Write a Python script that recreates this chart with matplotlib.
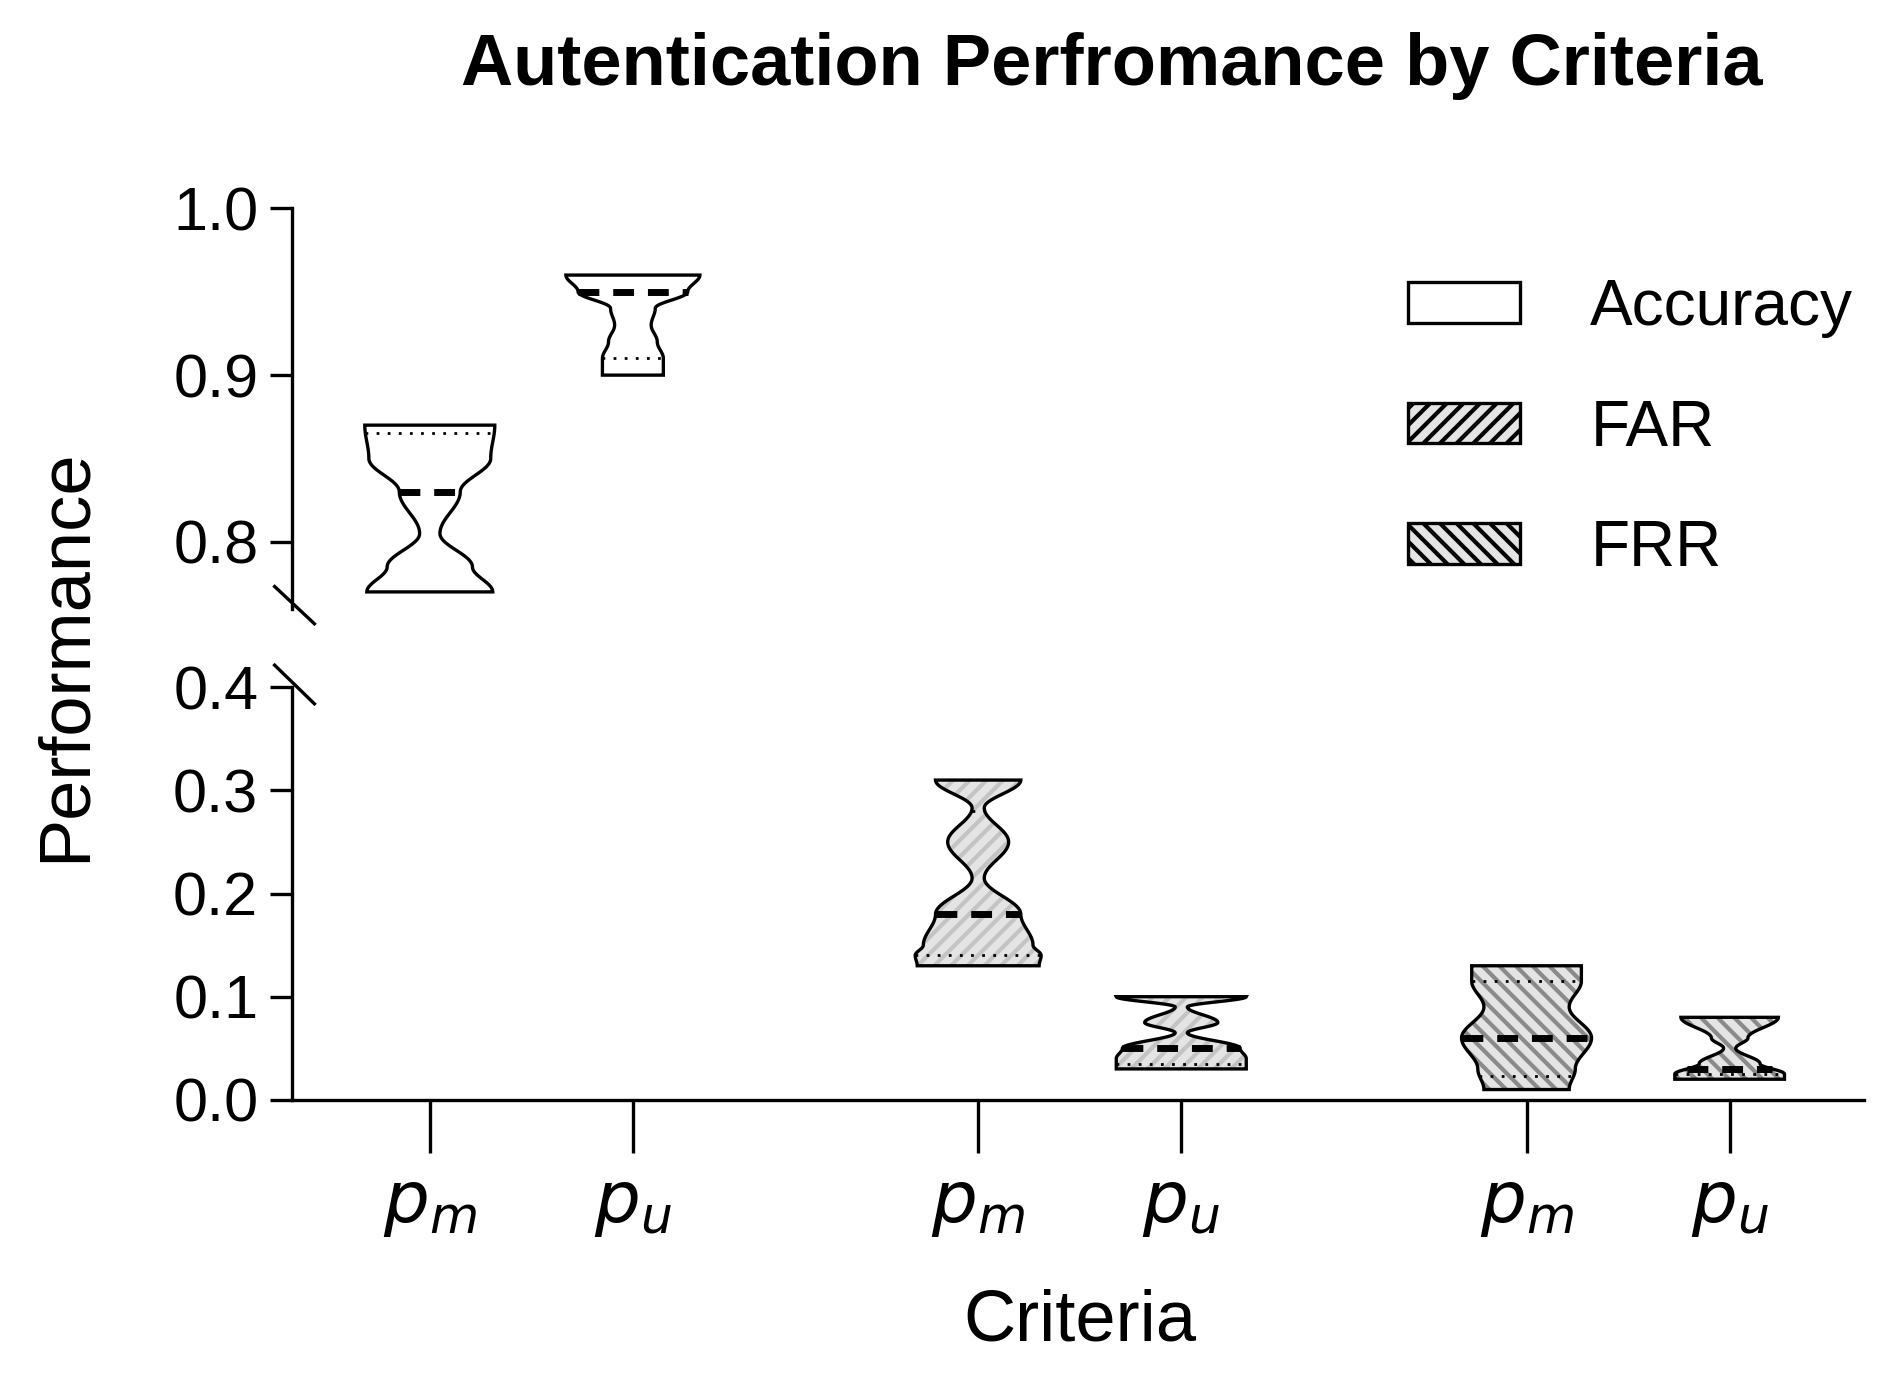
import numpy as np
import matplotlib
matplotlib.use("Agg")
import matplotlib.pyplot as plt
from matplotlib.patches import Polygon, Patch

plt.rcParams['font.family'] = ['Liberation Sans', 'DejaVu Sans']
plt.rcParams['hatch.linewidth'] = 3.0

title = "Autentication Perfromance by Criteria"
groups = ["Accuracy", "FAR", "FRR"]
tick_labels = ["$p_m$", "$p_u$", "$p_m$", "$p_u$", "$p_m$", "$p_u$"]
positions = [1.0, 2.0, 3.7, 4.7, 6.4, 7.4]

# density profiles: value levels and half-widths
acc_pm_y = [0.77, 0.785, 0.805, 0.83, 0.85, 0.87]
acc_pm_w = [0.31, 0.21, 0.05, 0.15, 0.30, 0.32]
acc_pu_y = [0.90, 0.91, 0.92, 0.93, 0.94, 0.95, 0.96]
acc_pu_w = [0.15, 0.15, 0.12, 0.09, 0.11, 0.27, 0.33]
far_pm_y = [0.13, 0.14, 0.15, 0.18, 0.215, 0.25, 0.283, 0.31]
far_pm_w = [0.30, 0.31, 0.27, 0.21, 0.03, 0.15, 0.03, 0.21]
far_pu_y = [0.03, 0.04, 0.05, 0.065, 0.075, 0.09, 0.10]
far_pu_w = [0.32, 0.32, 0.29, 0.03, 0.18, 0.03, 0.32]
frr_pm_y = [0.01, 0.03, 0.06, 0.09, 0.115, 0.13]
frr_pm_w = [0.21, 0.24, 0.32, 0.21, 0.27, 0.27]
frr_pu_y = [0.02, 0.025, 0.035, 0.05, 0.06, 0.08]
frr_pu_w = [0.27, 0.27, 0.15, 0.03, 0.09, 0.24]

medians = [0.83, 0.95, 0.18, 0.05, 0.06, 0.03]
quartiles = [[0.865], [0.91], [0.14, 0.28], [0.035], [0.023, 0.115], [0.025]]

profiles = [(acc_pm_y, acc_pm_w), (acc_pu_y, acc_pu_w), (far_pm_y, far_pm_w),
            (far_pu_y, far_pu_w), (frr_pm_y, frr_pm_w), (frr_pu_y, frr_pu_w)]
FAR_FC, FAR_HC = '#e4e4e4', '#c4c4c4'
FRR_FC, FRR_HC = '#e4e4e4', '#8a8a8a'
styles = [dict(fc='white', hatch=None, hc='black'),
          dict(fc='white', hatch=None, hc='black'),
          dict(fc=FAR_FC, hatch='//', hc=FAR_HC),
          dict(fc=FAR_FC, hatch='//', hc=FAR_HC),
          dict(fc=FRR_FC, hatch='\\\\', hc=FRR_HC),
          dict(fc=FRR_FC, hatch='\\\\', hc=FRR_HC)]


def smooth(ys, ws, n=200):
    ys = np.asarray(ys); ws = np.asarray(ws)
    yy = np.linspace(ys[0], ys[-1], n)
    out = np.empty(n)
    for i, y in enumerate(yy):
        k = min(np.searchsorted(ys, y, side='right') - 1, len(ys) - 2)
        t = (y - ys[k]) / (ys[k + 1] - ys[k])
        s = (1 - np.cos(np.pi * t)) / 2
        out[i] = ws[k] * (1 - s) + ws[k + 1] * s
    return yy, out


fig = plt.figure(figsize=(18.94, 13.8), dpi=100)
ax_top = fig.add_axes([0.154, 0.559, 0.83, 0.29])
ax_bot = fig.add_axes([0.154, 0.203, 0.83, 0.299])
xlim = (0.32, 8.06)

for ax in (ax_top, ax_bot):
    ax.set_xlim(*xlim)
    ax.spines['right'].set_visible(False)
    ax.spines['top'].set_visible(False)
    for s in ax.spines.values():
        s.set_linewidth(2.4)
    ax.tick_params(axis='y', labelsize=44, width=2.4, length=16, pad=8)
ax_top.set_ylim(0.76, 1.0)
ax_top.set_yticks([0.8, 0.9, 1.0])
ax_top.spines['bottom'].set_visible(False)
ax_top.set_xticks([])
ax_bot.set_ylim(0, 0.4)
ax_bot.set_yticks([0.0, 0.1, 0.2, 0.3, 0.4])
ax_bot.set_xticks(positions)
ax_bot.set_xticklabels(tick_labels, fontsize=52)
ax_bot.tick_params(axis='x', width=2.4, length=38, pad=14)
for ax in (ax_top, ax_bot):
    ax.yaxis.set_major_formatter(matplotlib.ticker.FormatStrFormatter('%.1f'))

for i, (pos, (ys, ws)) in enumerate(zip(positions, profiles)):
    ax = ax_top if i < 2 else ax_bot
    yy, hw = smooth(ys, ws)
    verts = np.concatenate([np.column_stack([pos - hw, yy]),
                            np.column_stack([pos + hw[::-1], yy[::-1]])])
    st = styles[i]
    ax.add_patch(Polygon(verts, closed=True, facecolor=st['fc'], edgecolor=st['hc'],
                         hatch=st['hatch'], linewidth=0))
    ax.add_patch(Polygon(verts, closed=True, facecolor='none', edgecolor='black', linewidth=2.4))
    m = medians[i]
    w = np.interp(m, yy, hw)
    ax.plot([pos - w, pos + w], [m, m], color='black', lw=5, ls=(0, (3, 2)))
    for q in quartiles[i]:
        w = np.interp(q, yy, hw)
        ax.plot([pos - w, pos + w], [q, q], color='black', lw=2, ls=(0, (1, 3)))

# axis break marks
fig.add_artist(plt.Line2D([0.145, 0.166], [0.575, 0.548], color='black', lw=2.4))
fig.add_artist(plt.Line2D([0.145, 0.166], [0.518, 0.490], color='black', lw=2.4))

fig.text(0.587, 0.952, title, ha='center', va='center', fontsize=52, fontweight='bold')
fig.text(0.035, 0.525, "Performance", rotation=90, ha='center', va='center', fontsize=52)
fig.text(0.57, 0.042, "Criteria", ha='center', va='center', fontsize=52)

handles = [Patch(facecolor='white', edgecolor='black', linewidth=2.4),
           Patch(facecolor=FAR_FC, edgecolor='black', hatch='//', linewidth=2.4),
           Patch(facecolor=FRR_FC, edgecolor='black', hatch='\\\\', linewidth=2.4)]
leg = ax_top.legend(handles, groups, loc='upper right', bbox_to_anchor=(1.03, 0.97),
                    frameon=False, fontsize=46, handlelength=1.75, handleheight=0.6,
                    labelspacing=0.95, handletextpad=1.1)
leg.set_zorder(10)

fig.savefig("out.png", dpi=100)
